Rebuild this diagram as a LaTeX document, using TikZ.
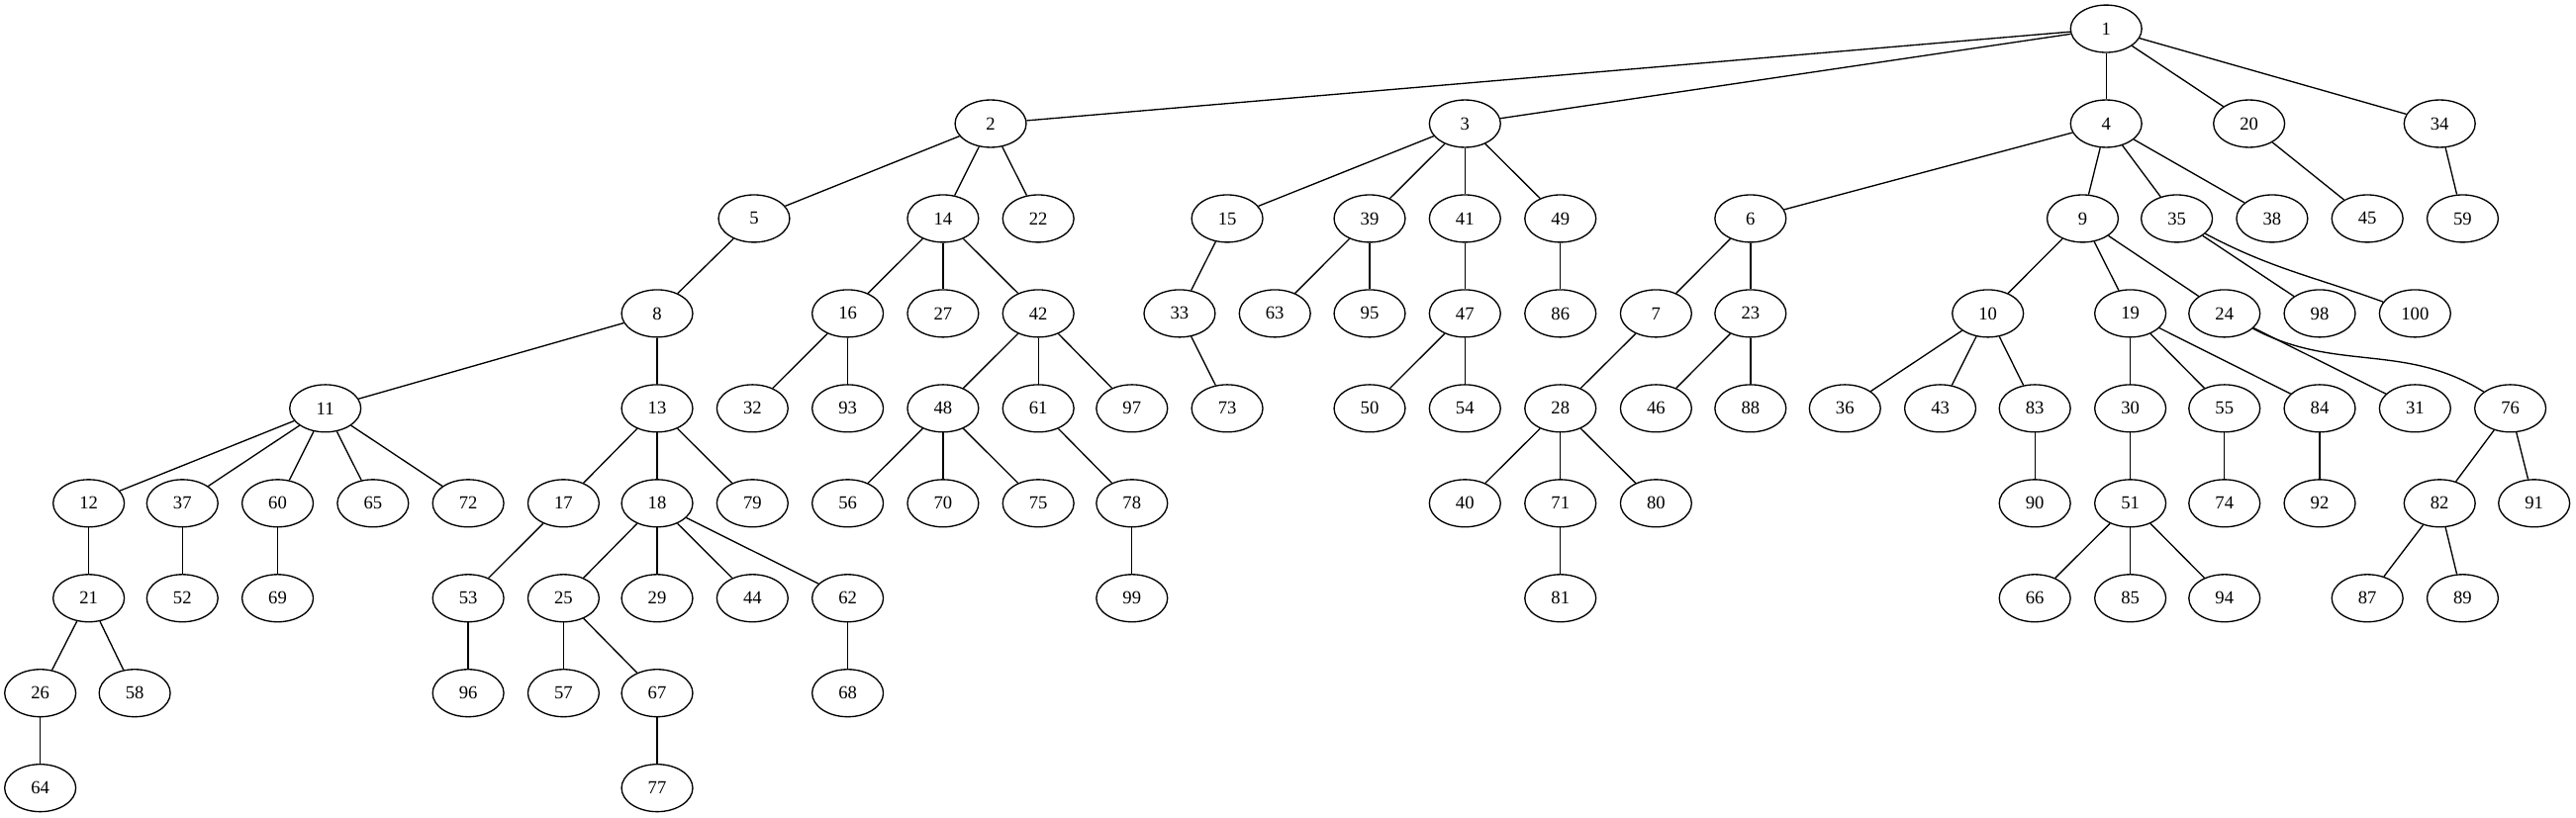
\documentclass[tikz,border=0pt]{standalone}
\usepackage{fontspec}
\setmainfont{Liberation Serif}
\usetikzlibrary{shapes.geometric}

\tikzset{
  vert/.style={draw, ellipse, minimum width=54pt, minimum height=36pt, inner sep=0pt,
    line width=1pt, font=\fontsize{14}{14}\selectfont},
  link/.style={line width=1pt},
}

\begin{document}
\begin{tikzpicture}[x=1.2468pt, y=-1.2468pt]
\useasboundingbox (0,0) rectangle (1568,498);
% level 0, 1
\node[vert] (n1) at (1282,17.5) {1};
\node[vert] (n2) at (603,75.3) {2};
\node[vert] (n3) at (891.7,75.3) {3};
\node[vert] (n4) at (1282,75.3) {4};
\node[vert] (n20) at (1369,75.3) {20};
\node[vert] (n34) at (1485,75.3) {34};
% level 2
\node[vert] (n5) at (459,133.1) {5};
\node[vert] (n14) at (574,133.1) {14};
\node[vert] (n22) at (632,133.1) {22};
\node[vert] (n15) at (747,133.1) {15};
\node[vert] (n39) at (833.7,133.1) {39};
\node[vert] (n41) at (891.7,133.1) {41};
\node[vert] (n49) at (949.8,133.1) {49};
\node[vert] (n6) at (1065.5,133.1) {6};
\node[vert] (n9) at (1267.7,133.1) {9};
\node[vert] (n35) at (1325,133.1) {35};
\node[vert] (n38) at (1383,133.1) {38};
\node[vert] (n45) at (1441,133.1) {45};
\node[vert] (n59) at (1499,133.1) {59};
% level 3
\node[vert] (n8) at (400,190.9) {8};
\node[vert] (n16) at (516,190.9) {16};
\node[vert] (n27) at (574,190.9) {27};
\node[vert] (n42) at (632,190.9) {42};
\node[vert] (n33) at (718,190.9) {33};
\node[vert] (n63) at (776,190.9) {63};
\node[vert] (n95) at (833.7,190.9) {95};
\node[vert] (n47) at (891.7,190.9) {47};
\node[vert] (n86) at (949.8,190.9) {86};
\node[vert] (n7) at (1008,190.9) {7};
\node[vert] (n23) at (1065.5,190.9) {23};
\node[vert] (n10) at (1210,190.9) {10};
\node[vert] (n19) at (1296.7,190.9) {19};
\node[vert] (n24) at (1354,190.9) {24};
\node[vert] (n98) at (1412,190.9) {98};
\node[vert] (n100) at (1470,190.9) {100};
% level 4
\node[vert] (n11) at (198,248.7) {11};
\node[vert] (n13) at (400,248.7) {13};
\node[vert] (n32) at (458,248.7) {32};
\node[vert] (n93) at (516,248.7) {93};
\node[vert] (n48) at (574,248.7) {48};
\node[vert] (n61) at (632,248.7) {61};
\node[vert] (n97) at (689,248.7) {97};
\node[vert] (n73) at (747,248.7) {73};
\node[vert] (n50) at (833.7,248.7) {50};
\node[vert] (n54) at (891.7,248.7) {54};
\node[vert] (n28) at (949.8,248.7) {28};
\node[vert] (n46) at (1008,248.7) {46};
\node[vert] (n88) at (1065.5,248.7) {88};
\node[vert] (n36) at (1123,248.7) {36};
\node[vert] (n43) at (1181,248.7) {43};
\node[vert] (n83) at (1238.6,248.7) {83};
\node[vert] (n30) at (1296.7,248.7) {30};
\node[vert] (n55) at (1354,248.7) {55};
\node[vert] (n84) at (1412,248.7) {84};
\node[vert] (n31) at (1470,248.7) {31};
\node[vert] (n76) at (1528,248.7) {76};
% level 5
\node[vert] (n12) at (54,306.5) {12};
\node[vert] (n37) at (111,306.5) {37};
\node[vert] (n60) at (169,306.5) {60};
\node[vert] (n65) at (227,306.5) {65};
\node[vert] (n72) at (285,306.5) {72};
\node[vert] (n17) at (343,306.5) {17};
\node[vert] (n18) at (400,306.5) {18};
\node[vert] (n79) at (458,306.5) {79};
\node[vert] (n56) at (516,306.5) {56};
\node[vert] (n70) at (574,306.5) {70};
\node[vert] (n75) at (632,306.5) {75};
\node[vert] (n78) at (689,306.5) {78};
\node[vert] (n40) at (891.7,306.5) {40};
\node[vert] (n71) at (949.8,306.5) {71};
\node[vert] (n80) at (1008,306.5) {80};
\node[vert] (n90) at (1238.6,306.5) {90};
\node[vert] (n51) at (1296.7,306.5) {51};
\node[vert] (n74) at (1354,306.5) {74};
\node[vert] (n92) at (1412,306.5) {92};
\node[vert] (n82) at (1485,306.5) {82};
\node[vert] (n91) at (1542.5,306.5) {91};
% level 6
\node[vert] (n21) at (54,364.3) {21};
\node[vert] (n52) at (111,364.3) {52};
\node[vert] (n69) at (169,364.3) {69};
\node[vert] (n53) at (285,364.3) {53};
\node[vert] (n25) at (343,364.3) {25};
\node[vert] (n29) at (400,364.3) {29};
\node[vert] (n44) at (458,364.3) {44};
\node[vert] (n62) at (516,364.3) {62};
\node[vert] (n99) at (689,364.3) {99};
\node[vert] (n81) at (949.8,364.3) {81};
\node[vert] (n66) at (1238.6,364.3) {66};
\node[vert] (n85) at (1296.7,364.3) {85};
\node[vert] (n94) at (1354,364.3) {94};
\node[vert] (n87) at (1441,364.3) {87};
\node[vert] (n89) at (1499,364.3) {89};
% level 7, 8
\node[vert] (n26) at (24.5,422.1) {26};
\node[vert] (n58) at (82,422.1) {58};
\node[vert] (n96) at (285,422.1) {96};
\node[vert] (n57) at (343,422.1) {57};
\node[vert] (n67) at (400,422.1) {67};
\node[vert] (n68) at (516,422.1) {68};
\node[vert] (n64) at (24.5,479.9) {64};
\node[vert] (n77) at (400,479.9) {77};

% tree edges
\foreach \a/\b in {1/2, 1/3, 1/4, 1/20, 1/34, 2/5, 2/14, 2/22, 3/15, 3/39, 3/41, 3/49,
  4/6, 4/9, 4/35, 4/38, 20/45, 34/59, 5/8, 14/16, 14/27, 14/42, 15/33, 39/63, 39/95,
  41/47, 49/86, 6/7, 6/23, 9/10, 9/19, 9/24, 35/98, 8/11, 8/13, 16/32, 16/93,
  42/48, 42/61, 42/97, 33/73, 47/50, 47/54, 7/28, 23/46, 23/88, 10/36, 10/43, 10/83,
  19/30, 19/55, 19/84, 24/31, 11/12, 11/37, 11/60, 11/65, 11/72, 13/17, 13/18, 13/79,
  48/56, 48/70, 48/75, 61/78, 28/40, 28/71, 28/80, 83/90, 30/51, 55/74, 84/92,
  76/82, 76/91, 12/21, 37/52, 60/69, 17/53, 18/25, 18/29, 18/44, 18/62, 78/99,
  71/81, 51/66, 51/85, 51/94, 82/87, 82/89, 21/26, 21/58, 53/96, 25/57, 25/67,
  62/68, 26/64, 67/77}
  \draw[link] (n\a) -- (n\b);
% the two bent ones
\draw[link] (n35) to[out=-28, in=160] (n100);
\draw[link] (n24) to[out=-28, in=148] (n76);
\end{tikzpicture}
\end{document}
